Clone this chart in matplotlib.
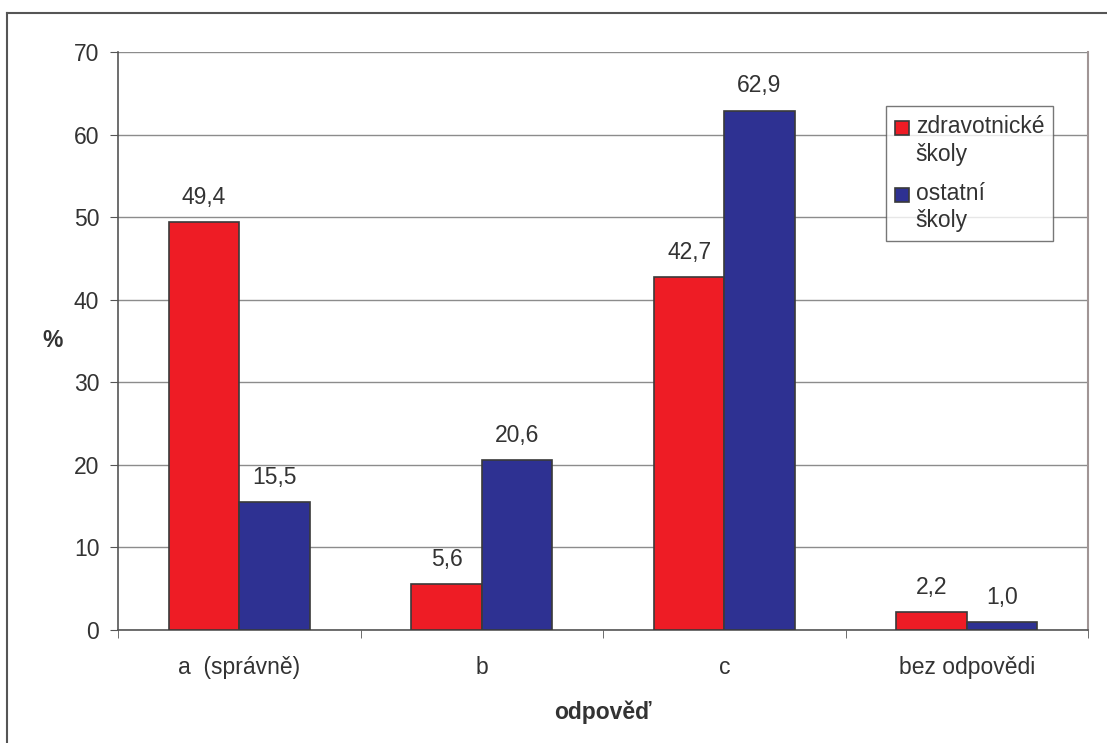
import matplotlib.pyplot as plt
import numpy as np
from matplotlib.lines import Line2D
from matplotlib.patches import Rectangle
from matplotlib.container import BarContainer
from matplotlib.legend_handler import HandlerPatch, update_from_first_child

plt.rcParams['font.family'] = ['Liberation Sans', 'DejaVu Sans']

odpovedi = ["a  (správně)", "b", "c", "bez odpovědi"]
zdravotnicke = [49.4, 5.6, 42.7, 2.2]
ostatni = [15.5, 20.6, 62.9, 1.0]
serie = ["zdravotnické\nškoly", "ostatní\nškoly"]

cervena = "#ee1c25"
modra = "#2e3192"
text_barva = "#333333"
cara = "#555555"
fs = 16.5

fig = plt.figure(figsize=(11.07, 7.43), dpi=100)
ax = fig.add_axes([0.1066, 0.1521, 0.8763, 0.7779])

x = np.arange(len(odpovedi))
w = 0.29
b1 = ax.bar(x - w / 2, zdravotnicke, w, color=cervena, edgecolor="#3a3a3a", linewidth=1.2, label=serie[0], zorder=3)
b2 = ax.bar(x + w / 2, ostatni, w, color=modra, edgecolor="#3a3a3a", linewidth=1.2, label=serie[1], zorder=3)

def popisky(bars, hodnoty):
    for r, v in zip(bars, hodnoty):
        ax.text(r.get_x() + r.get_width() / 2, v + 2.2, f"{v:.1f}".replace(".", ","),
                ha="center", va="baseline", fontsize=fs, color=text_barva)

popisky(b1, zdravotnicke)
popisky(b2, ostatni)

ax.set_xlim(-0.5, len(odpovedi) - 0.5)
ax.set_ylim(0, 70)
ax.set_yticks(range(0, 71, 10))
ax.yaxis.grid(True, color="#8c8c8c", linewidth=1.0, zorder=0)
ax.set_axisbelow(True)

ax.set_xticks(x)
ax.set_xticklabels(odpovedi, fontsize=fs, color=text_barva)
ax.tick_params(axis="x", which="major", length=0, pad=19)
ax.set_xticks(np.arange(-0.5, len(odpovedi), 1.0), minor=True)
ax.tick_params(axis="x", which="minor", length=5.5, color=cara, direction="out")
ax.tick_params(axis="y", length=5.5, color=cara, labelsize=fs, labelcolor=text_barva, pad=8)

ax.spines["top"].set_visible(False)
ax.spines["right"].set_color("#a09595")
ax.spines["right"].set_linewidth(1.5)
ax.spines["left"].set_color(cara)
ax.spines["bottom"].set_color(cara)
ax.spines["left"].set_linewidth(1.2)
ax.spines["bottom"].set_linewidth(1.2)

ax.set_xlabel("odpověď", fontsize=fs, fontweight="bold", color=text_barva)
ax.xaxis.set_label_coords(0.5, -0.142)
ax.xaxis.label.set_va("center")
ax.set_ylabel("%", fontsize=fs, fontweight="bold", color=text_barva, rotation=0)
ax.yaxis.set_label_coords(-0.067, 0.5)
ax.yaxis.label.set_va("center")

# čtvereček legendy zarovnaný k prvnímu řádku popisku
def ctverec(legend, orig_handle, xdescent, ydescent, width, height, fontsize):
    return Rectangle((-xdescent, -ydescent + 9.5), width, height)

leg = ax.legend(loc="upper left", bbox_to_anchor=(0.792, 0.9066), borderaxespad=0, fontsize=fs,
                frameon=True, fancybox=False, edgecolor="#555555", handlelength=0.58, handleheight=0.58,
                handletextpad=0.3, labelspacing=0.7, borderpad=0.4, labelcolor=text_barva,
                handler_map={BarContainer: HandlerPatch(patch_func=ctverec,
                                                        update_func=update_from_first_child)})
leg.get_frame().set_linewidth(1.0)
for t in leg.get_texts():
    t.set_linespacing(1.25)

# horní a levá hrana rámečku kolem grafu
fig.add_artist(Line2D([7 / 1107, 1], [1 - 13 / 743, 1 - 13 / 743], color="#555555", linewidth=1.5))
fig.add_artist(Line2D([7 / 1107, 7 / 1107], [0, 1 - 13 / 743], color="#555555", linewidth=1.5))

fig.savefig("out.png", dpi=100)
